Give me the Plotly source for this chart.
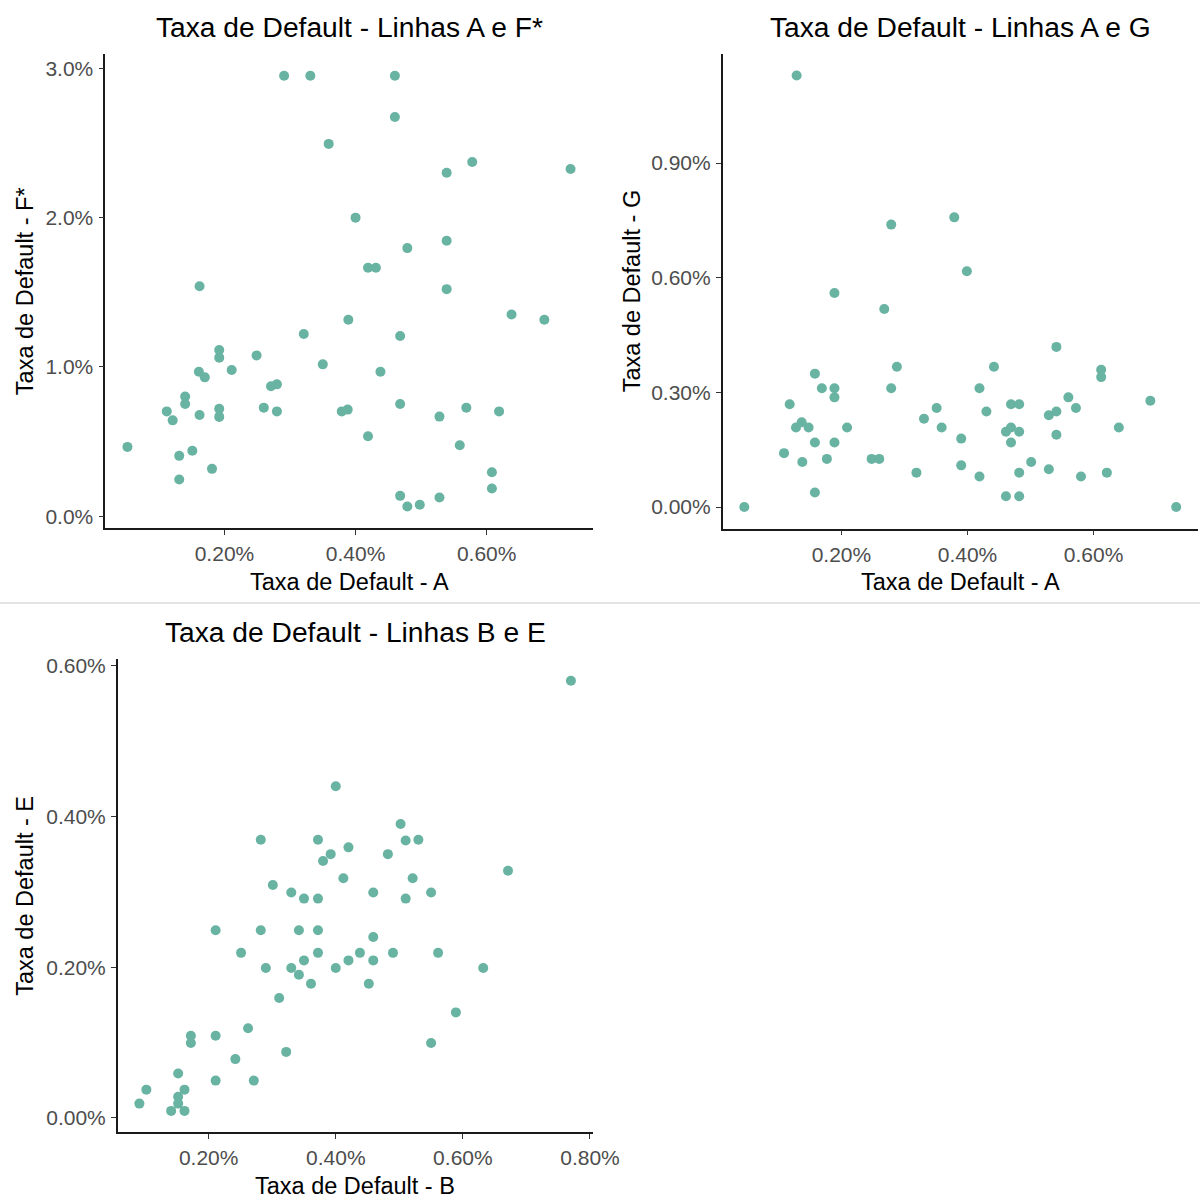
import plotly.graph_objects as go

# ---- Linhas A e F* (taxas em %) ----
a_vs_f_x = [0.052, 0.112, 0.121, 0.131, 0.131, 0.140, 0.140, 0.151, 0.161, 0.162,
            0.170, 0.181, 0.162, 0.192, 0.192, 0.192, 0.192, 0.211, 0.249, 0.260,
            0.271, 0.280, 0.280, 0.291, 0.331, 0.321, 0.350, 0.359, 0.379, 0.388,
            0.389, 0.400, 0.419, 0.431, 0.419, 0.438, 0.460, 0.460, 0.468, 0.468,
            0.468, 0.479, 0.479, 0.498, 0.528, 0.528, 0.539, 0.539, 0.539, 0.559,
            0.569, 0.578, 0.608, 0.608, 0.619, 0.638, 0.688, 0.728]
a_vs_f_y = [0.464, 0.702, 0.642, 0.404, 0.246, 0.801, 0.752, 0.438, 0.968, 0.678,
            0.930, 0.317, 1.540, 1.113, 1.062, 0.719, 0.665, 0.979, 1.077, 0.727,
            0.870, 0.883, 0.702, 2.950, 2.950, 1.220, 1.017, 2.494, 0.702, 0.714,
            1.316, 2.000, 1.664, 1.664, 0.535, 0.968, 2.950, 2.674, 1.207, 0.752,
            0.136, 1.796, 0.065, 0.076, 0.667, 0.125, 2.301, 1.845, 1.521, 0.475,
            0.727, 2.373, 0.294, 0.185, 0.702, 1.351, 1.316, 2.326]

# ---- Linhas A e G ----
a_vs_g_x = [0.046, 0.109, 0.118, 0.129, 0.128, 0.137, 0.138, 0.148, 0.158, 0.158,
            0.158, 0.169, 0.177, 0.189, 0.189, 0.189, 0.189, 0.209, 0.248, 0.260,
            0.268, 0.279, 0.279, 0.288, 0.319, 0.331, 0.351, 0.359, 0.379, 0.390,
            0.390, 0.399, 0.419, 0.419, 0.430, 0.442, 0.461, 0.461, 0.469, 0.469,
            0.469, 0.482, 0.482, 0.482, 0.482, 0.501, 0.529, 0.529, 0.541, 0.541,
            0.541, 0.560, 0.572, 0.580, 0.612, 0.612, 0.621, 0.640, 0.690, 0.731]
a_vs_g_y = [0.000, 0.141, 0.269, 1.129, 0.208, 0.222, 0.118, 0.208, 0.349, 0.169,
            0.038, 0.311, 0.126, 0.560, 0.311, 0.287, 0.169, 0.208, 0.126, 0.126,
            0.518, 0.739, 0.311, 0.367, 0.090, 0.231, 0.259, 0.208, 0.758, 0.179,
            0.109, 0.617, 0.311, 0.080, 0.250, 0.367, 0.197, 0.028, 0.269, 0.208,
            0.169, 0.269, 0.197, 0.090, 0.028, 0.118, 0.240, 0.099, 0.419, 0.250,
            0.189, 0.287, 0.259, 0.080, 0.359, 0.340, 0.090, 0.208, 0.278, 0.000]

# ---- Linhas B e E ----
b_vs_e_x = [0.091, 0.102, 0.141, 0.152, 0.152, 0.152, 0.162, 0.162, 0.172, 0.172,
            0.211, 0.211, 0.211, 0.242, 0.251, 0.262, 0.271, 0.282, 0.282, 0.290,
            0.301, 0.311, 0.322, 0.330, 0.330, 0.342, 0.342, 0.350, 0.350, 0.361,
            0.372, 0.372, 0.372, 0.372, 0.380, 0.392, 0.400, 0.400, 0.412, 0.420,
            0.420, 0.438, 0.459, 0.459, 0.459, 0.452, 0.482, 0.490, 0.502, 0.510,
            0.510, 0.521, 0.530, 0.550, 0.550, 0.561, 0.589, 0.632, 0.671, 0.770]
b_vs_e_y = [0.019, 0.0375, 0.0093, 0.059, 0.028, 0.019, 0.0375, 0.0093, 0.109, 0.0995,
            0.249, 0.109, 0.0495, 0.078, 0.219, 0.119, 0.0495, 0.369, 0.249, 0.199,
            0.309, 0.159, 0.0876, 0.299, 0.199, 0.249, 0.190, 0.291, 0.209, 0.178,
            0.369, 0.291, 0.249, 0.219, 0.341, 0.350, 0.440, 0.199, 0.318, 0.359,
            0.209, 0.219, 0.299, 0.240, 0.209, 0.178, 0.350, 0.219, 0.390, 0.368,
            0.291, 0.318, 0.369, 0.299, 0.0995, 0.219, 0.140, 0.199, 0.328, 0.580]

# tick positions (values in %) and their labels
ticks_a_f_x = [0.2, 0.4, 0.6]
labels_a_f_x = ["0.20%", "0.40%", "0.60%"]
ticks_a_f_y = [0, 1, 2, 3]
labels_a_f_y = ["0.0%", "1.0%", "2.0%", "3.0%"]
ticks_a_g_x = [0.2, 0.4, 0.6]
labels_a_g_x = ["0.20%", "0.40%", "0.60%"]
ticks_a_g_y = [0.0, 0.3, 0.6, 0.9]
labels_a_g_y = ["0.00%", "0.30%", "0.60%", "0.90%"]
ticks_b_e_x = [0.2, 0.4, 0.6, 0.8]
labels_b_e_x = ["0.20%", "0.40%", "0.60%", "0.80%"]
ticks_b_e_y = [0.0, 0.2, 0.4, 0.6]
labels_b_e_y = ["0.00%", "0.20%", "0.40%", "0.60%"]

POINT = "#69b3a2"
FONT = "Liberation Sans, Arial, sans-serif"
W = H = 1200


def expand(vals, frac=0.05):
    lo, hi = min(vals), max(vals)
    pad = (hi - lo) * frac
    return [lo - pad, hi + pad]


fig = go.Figure()
panels = [
    ("x", "y", a_vs_f_x, a_vs_f_y),
    ("x2", "y2", a_vs_g_x, a_vs_g_y),
    ("x3", "y3", b_vs_e_x, b_vs_e_y),
]
for xa, ya, xs, ys in panels:
    fig.add_trace(go.Scatter(
        x=xs, y=ys, mode="markers", xaxis=xa, yaxis=ya, showlegend=False,
        marker=dict(color=POINT, size=10, line=dict(width=0)),
    ))


def axis_style(domain, rng, tickvals, ticktext, anchor):
    return dict(
        domain=domain, range=rng, anchor=anchor, automargin=False,
        tickmode="array", tickvals=tickvals, ticktext=ticktext,
        showgrid=False, zeroline=False,
        showline=True, linecolor="#1a1a1a", linewidth=1.6,
        ticks="outside", ticklen=5, tickwidth=1.4, tickcolor="#333333",
        tickfont=dict(family=FONT, size=21, color="#4D4D4D"),
        ticklabelstandoff=1,
    )


# panel boxes in pixels: (left, right, top, bottom)
box1 = (105.3, 592.7, 54.3, 528.0)
box2 = (722.7, 1197.8, 54.0, 528.6)
box3 = (117.8, 592.5, 659.3, 1132.4)


def xdom(b):
    return [b[0] / W, b[1] / W]


def ydom(b):
    return [1 - b[3] / H, 1 - b[2] / H]


fig.update_layout(
    template="none",
    width=W, height=H, autosize=False,
    margin=dict(l=0, r=0, t=0, b=0, pad=0),
    paper_bgcolor="white", plot_bgcolor="white",
    xaxis=axis_style(xdom(box1), expand(a_vs_f_x), ticks_a_f_x, labels_a_f_x, "y"),
    yaxis=axis_style(ydom(box1), expand(a_vs_f_y), ticks_a_f_y, labels_a_f_y, "x"),
    xaxis2=axis_style(xdom(box2), expand(a_vs_g_x), ticks_a_g_x, labels_a_g_x, "y2"),
    yaxis2=axis_style(ydom(box2), expand(a_vs_g_y), ticks_a_g_y, labels_a_g_y, "x2"),
    xaxis3=axis_style(xdom(box3), expand(b_vs_e_x), ticks_b_e_x, labels_b_e_x, "y3"),
    yaxis3=axis_style(ydom(box3), expand(b_vs_e_y), ticks_b_e_y, labels_b_e_y, "x3"),
)


def label(text, px, py, size, angle=0):
    fig.add_annotation(
        text=text, xref="paper", yref="paper", x=px / W, y=1 - py / H,
        xanchor="center", yanchor="middle", showarrow=False, textangle=angle,
        font=dict(family=FONT, size=size, color="#000000"),
    )


# titles
label("Taxa de Default - Linhas A e F*", (box1[0] + box1[1]) / 2, 27, 28.2)
label("Taxa de Default - Linhas A e G", (box2[0] + box2[1]) / 2, 27, 28.2)
label("Taxa de Default - Linhas B e E", (box3[0] + box3[1]) / 2, 632, 28.2)

# axis titles
label("Taxa de Default - A", (box1[0] + box1[1]) / 2, 582, 23.5)
label("Taxa de Default - A", (box2[0] + box2[1]) / 2, 582, 23.5)
label("Taxa de Default - B", (box3[0] + box3[1]) / 2, 1186, 23.5)
label("Taxa de Default - F*", 25, (box1[2] + box1[3]) / 2, 23.5, -90)
label("Taxa de Default - G", 632, (box2[2] + box2[3]) / 2, 23.5, -90)
label("Taxa de Default - E", 25, (box3[2] + box3[3]) / 2, 23.5, -90)

# divider between the two rows
fig.add_shape(type="line", xref="paper", yref="paper",
              x0=0, x1=1, y0=1 - 603 / H, y1=1 - 603 / H,
              line=dict(color="#c8c8c8", width=1.2))

fig.write_html("out.html")
